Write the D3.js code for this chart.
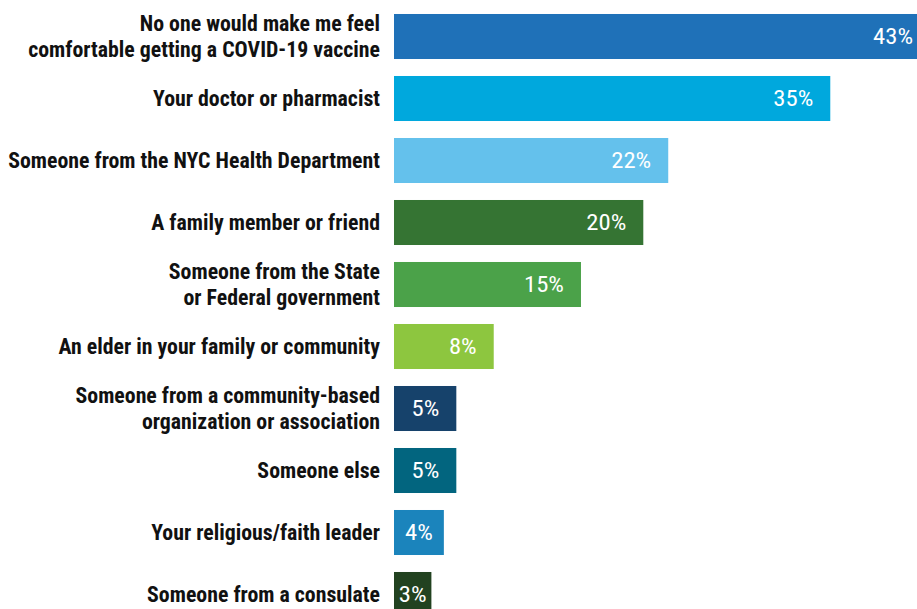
<!DOCTYPE html>
<html>
<head>
<meta charset="utf-8">
<script src="https://cdn.jsdelivr.net/npm/d3@7"></script>
<style>
  html, body { margin: 0; padding: 0; background: #fff; overflow: hidden; }
  svg { display: block; }
</style>
</head>
<body>
<svg id="chart" width="917" height="609"></svg>
<script>
const categories = [
  ["No one would make me feel", "comfortable getting a COVID-19 vaccine"],
  ["Your doctor or pharmacist"],
  ["Someone from the NYC Health Department"],
  ["A family member or friend"],
  ["Someone from the State", "or Federal government"],
  ["An elder in your family or community"],
  ["Someone from a community-based", "organization or association"],
  ["Someone else"],
  ["Your religious/faith leader"],
  ["Someone from a consulate"]
];
const values = [43, 35, 22, 20, 15, 8, 5, 5, 4, 3];
const colors = ["#1f71b8", "#00a8dd", "#64c1ec", "#357433", "#4ba249", "#8dc63f", "#16426b", "#02657f", "#1b84bc", "#224220"];

const svg = d3.select("#chart");
const fontCat = "'Roboto Condensed', Roboto, 'Liberation Sans', sans-serif";

const ids = d3.range(categories.length);
const y = d3.scaleBand().domain(ids).range([5.5, 625.5]).paddingInner(0.274).paddingOuter(0.137);
const x = d3.scaleLinear().domain([0, 43]).range([394, 930]);

const g = svg.append("g");

g.selectAll("rect.bar").data(ids).join("rect")
  .attr("class", "bar")
  .attr("x", x(0))
  .attr("y", i => y(i))
  .attr("width", i => x(values[i]) - x(0))
  .attr("height", y.bandwidth())
  .attr("fill", i => colors[i]);

// measure helper for horizontal condensing
function measure(txt, weight, size) {
  const t = svg.append("text").attr("font-family", fontCat).attr("font-weight", weight)
    .attr("font-size", size).text(txt);
  const w = t.node().getComputedTextLength();
  t.remove();
  return w;
}
const catSize = 21.5, valSize = 21.5;
const sxCat = 372 / measure("Someone from the NYC Health Department", "bold", catSize);
const sxVal = 40 / measure("35%", "normal", valSize);

// category labels
const lineH = 26;
const labelX = 380;
ids.forEach(i => {
  const lines = categories[i];
  const cy = y(i) + y.bandwidth() / 2;
  const lg = g.append("g").attr("transform", `translate(${labelX},0) scale(${sxCat},1)`);
  const t = lg.append("text")
    .attr("text-anchor", "end")
    .attr("font-family", fontCat)
    .attr("font-weight", "bold")
    .attr("font-size", catSize)
    .attr("fill", "#111");
  lines.forEach((ln, k) => {
    t.append("tspan")
      .attr("x", 0)
      .attr("y", cy + (k - (lines.length - 1) / 2) * lineH)
      .attr("dy", "0.36em")
      .text(ln);
  });
});

// value labels
ids.forEach(i => {
  const w = x(values[i]) - x(0);
  const cy = y(i) + y.bandwidth() / 2;
  const narrow = w < 60;
  const px = narrow ? x(0) + w / 2 : x(values[i]) - 17;
  g.append("g").attr("transform", `translate(${px},${cy}) scale(${sxVal},1)`)
    .append("text")
    .attr("x", 0)
    .attr("dy", "0.36em")
    .attr("text-anchor", narrow ? "middle" : "end")
    .attr("font-family", fontCat)
    .attr("font-size", valSize)
    .attr("fill", "#fff")
    .text(values[i] + "%");
});
</script>
</body>
</html>
